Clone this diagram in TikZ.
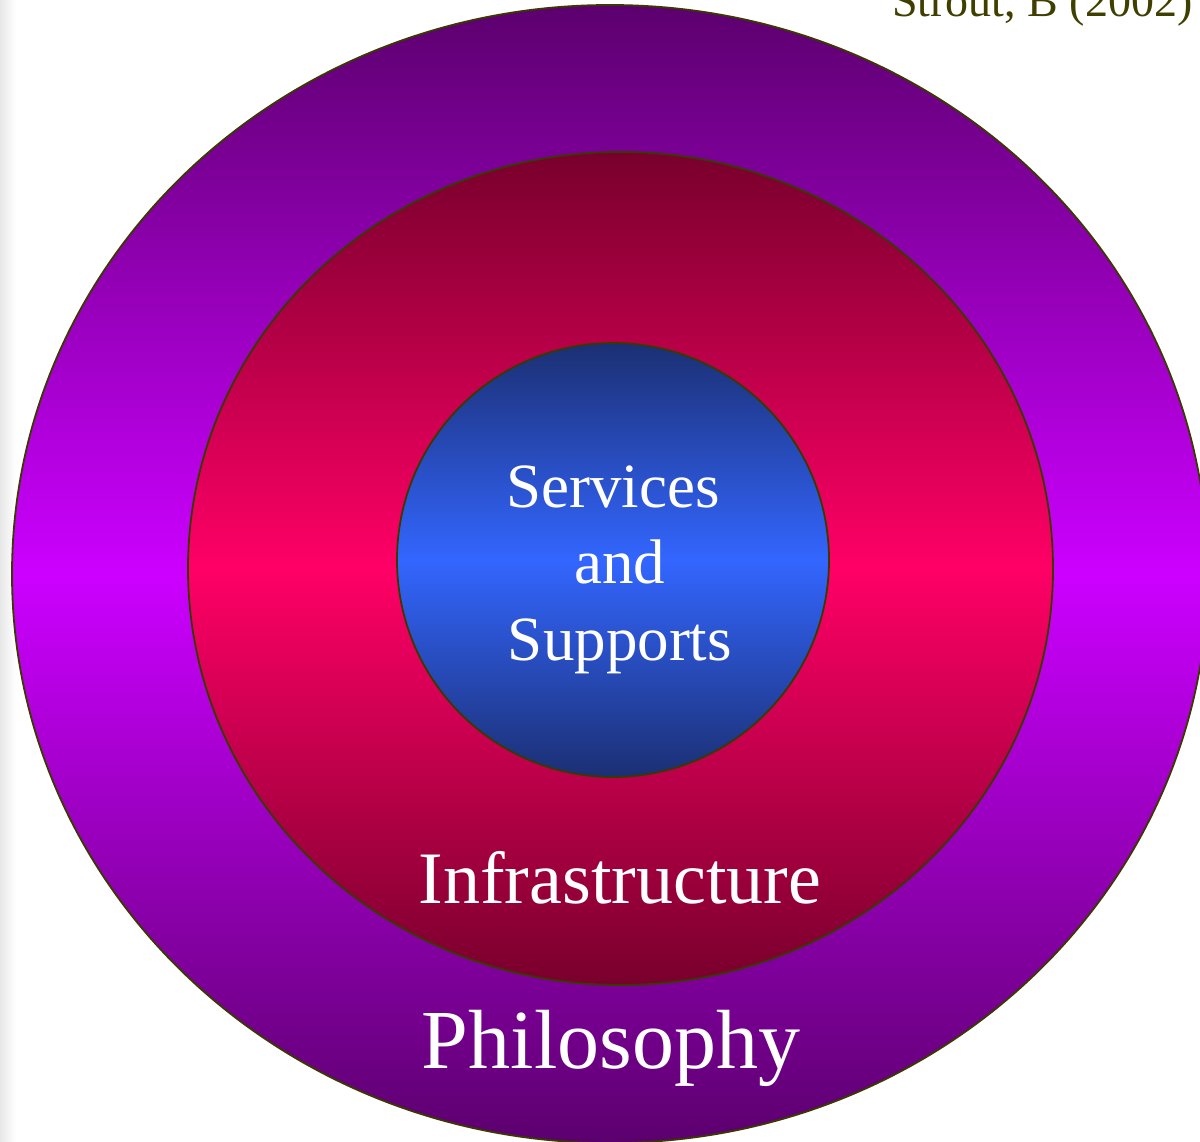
\documentclass[tikz,border=0pt]{standalone}
\usepackage{fontspec}
\setmainfont{Liberation Serif}
\usetikzlibrary{shapes.geometric}
\definecolor{edge}{HTML}{3A3A00}
\definecolor{cite}{HTML}{3F3F00}
\definecolor{outtop}{HTML}{5C006E}
\definecolor{outmid}{HTML}{CC00FF}
\definecolor{midtop}{HTML}{78002C}
\definecolor{midmid}{HTML}{FF0066}
\definecolor{intop}{HTML}{1B2F73}
\definecolor{inmid}{HTML}{3366FF}
\begin{document}
\begin{tikzpicture}[x=1pt,y=-1pt,
  ring/.style={ellipse, draw=edge, line width=1.8pt, inner sep=0pt},
  lbl/.style={text=white, anchor=base, inner sep=0pt}]
\useasboundingbox (0,0) rectangle (1200,1142);
\begin{scope}
\clip (0,0) rectangle (1200,1142);
\shade[left color=black!9, right color=white, draw=none] (0,0) rectangle (16,1142);
\node[ring, minimum width=1196pt, minimum height=1138pt,
  top color=outtop, bottom color=outtop, middle color=outmid] (outer) at (610,574) {};
\node[ring, minimum width=865pt, minimum height=833pt,
  top color=midtop, bottom color=midtop, middle color=midmid] (middle) at (620.5,568.5) {};
\node[ring, minimum width=432pt, minimum height=434pt,
  top color=intop, bottom color=intop, middle color=inmid] (inner) at (613,560) {};
\node[text=cite, anchor=base west, inner sep=0pt, font=\fontsize{46}{50}\selectfont] (cite) at (892,17) {Strout, B (2002)};
\end{scope}
\node[lbl, font=\fontsize{63}{75}\selectfont] (services) at (613,507) {Services};
\node[lbl, font=\fontsize{63}{75}\selectfont] (and) at (620,583) {and};
\node[lbl, font=\fontsize{63}{75}\selectfont] (supports) at (620,660) {Supports};
\node[lbl, font=\fontsize{74}{80}\selectfont] (infra) at (620,903) {Infrastructure};
\node[lbl, font=\fontsize{84}{90}\selectfont] (philo) at (611,1068) {Philosophy};
\end{tikzpicture}
\end{document}
